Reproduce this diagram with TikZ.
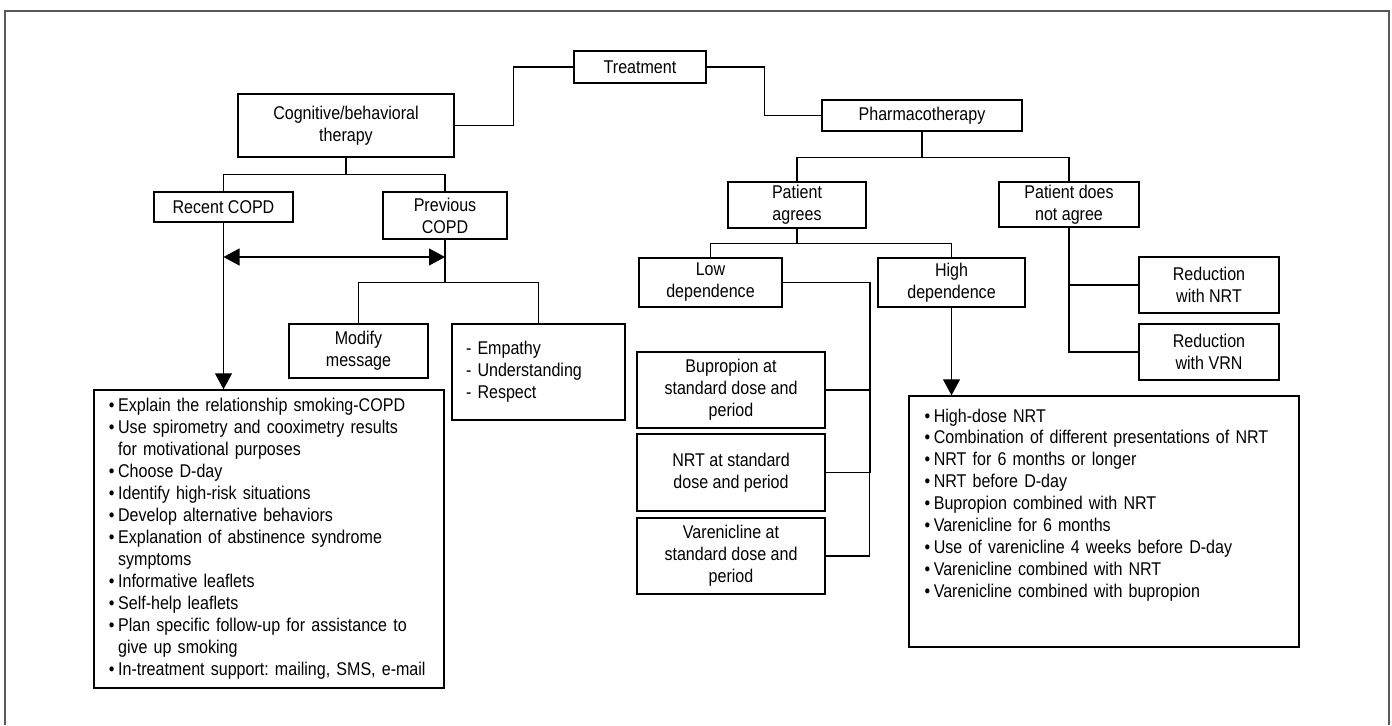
\documentclass[tikz,border=0pt]{standalone}
\usepackage{fontspec}
\setmainfont[FakeStretch=0.87]{Liberation Sans}
\usetikzlibrary{arrows.meta}
\frenchspacing

\tikzset{
  box/.style={draw, line width=0.8pt, align=center, inner sep=0pt,
    font=\fontsize{10.5}{12.5}\selectfont},
  dims/.style 2 args={minimum width=#1mm, minimum height=#2mm},
  link/.style={line width=0.65pt},
  arr/.style={link, -{Triangle[length=3.2mm,width=3.4mm]}},
  listtext/.style={anchor=north west, align=left, inner sep=0pt,
    font=\fontsize{10.5}{12.5}\selectfont}
}
\newcommand{\itm}{\makebox[5.2pt][l]{\textbullet}}
\newcommand{\cnt}{\hspace*{5.2pt}}

\begin{document}
\begin{tikzpicture}[x=0.2mm, y=-0.2mm]
\useasboundingbox (0,0) rectangle (1392,725);

% Frame
\draw[line width=1pt, black!65] (5,725) -- (5,11) -- (1389,11) -- (1389,725);

% Root
\node[box, dims={26.4}{6.4}] (treat) at (640,67) {Treatment};

% Cognitive/behavioral branch
\node[box, dims={43.2}{12.6}] (cbt) at (346,125.5) {Cognitive/behavioral\\therapy};
\node[box, dims={27.8}{6}] (recent) at (223.5,207) {Recent COPD};
\node[box, dims={24.8}{9.4}] (prev) at (445,215.5) {Previous\\COPD};
\node[box, dims={27.8}{10.8}] (modify) at (358.5,351) {Modify\\message};
\node[box, dims={34.6}{19.2}, text width=29mm, align=left] (empathy) at (538.5,372)
  {- Empathy\\- Understanding\\- Respect};
\node[box, dims={70}{59.6}, text width=64mm, align=left] (leftlist) at (269,539) {%
  \itm Explain the relationship smoking-COPD\\
  \itm Use spirometry and cooximetry results\\
  \cnt for motivational purposes\\
  \itm Choose D-day\\
  \itm Identify high-risk situations\\
  \itm Develop alternative behaviors\\
  \itm Explanation of abstinence syndrome\\
  \cnt symptoms\\
  \itm Informative leaflets\\
  \itm Self-help leaflets\\
  \itm Plan specific follow-up for assistance to\\
  \cnt give up smoking\\
  \itm In-treatment support: mailing, SMS, e-mail};

% Pharmacotherapy branch
\node[box, dims={40}{6.2}] (pharma) at (922,115.5) {Pharmacotherapy};
\node[box, dims={27.6}{9.2}] (agree) at (797,205) {Patient\\agrees};
\node[box, dims={28}{9}] (notagree) at (1069,204.5) {Patient does\\not agree};
\node[box, dims={28.6}{9.8}] (low) at (710.5,282.5) {Low\\dependence};
\node[box, dims={29.4}{9.8}] (high) at (951.5,282.5) {High\\dependence};
\node[box, dims={37.6}{15.2}] (bup) at (731,390) {Bupropion at\\standard dose and\\period};
\node[box, dims={37.6}{15.4}] (nrt) at (731,472.5) {NRT at standard\\dose and period};
\node[box, dims={37.6}{15.2}] (var) at (731,556) {Varenicline at\\standard dose and\\period};
\node[box, dims={28}{11.2}] (rednrt) at (1209,285) {Reduction\\with NRT};
\node[box, dims={28}{11.2}] (redvrn) at (1209,352) {Reduction\\with VRN};
\node[box, dims={78}{50.2}] (rightlist) at (1104,521.5) {};
\node[listtext, text width=74mm] (righttext) at ([xshift=3.2mm,yshift=-2.6mm]rightlist.north west) {%
  \itm High-dose NRT\\
  \itm Combination of different presentations of NRT\\
  \itm NRT for 6 months or longer\\
  \itm NRT before D-day\\
  \itm Bupropion combined with NRT\\
  \itm Varenicline for 6 months\\
  \itm Use of varenicline 4 weeks before D-day\\
  \itm Varenicline combined with NRT\\
  \itm Varenicline combined with bupropion};

% Connectors
\draw[link] (treat.west) -- ++(-60,0) |- (cbt.east);
\draw[link] (treat.east) -- ++(58,0) |- (pharma.west);

\draw[link] (cbt.south) -- ++(0,17) coordinate (cbtj) -| (recent.north);
\draw[link] (cbtj) -| (prev.north);
\coordinate (dbl) at (0,257);
\draw[link, {Triangle[length=3.2mm,width=3.4mm]}-{Triangle[length=3.2mm,width=3.4mm]}]
  (recent.south |- dbl) -- (prev.south |- dbl);
\draw[arr] (recent.south) -- (recent.south |- leftlist.north);
\draw[link] (prev.south) -- ++(0,43) coordinate (pvj) -| (modify.north);
\draw[link] (pvj) -| (empathy.north);

\draw[link] (pharma.south) -- ++(0,26) coordinate (phj) -| (agree.north);
\draw[link] (phj) -| (notagree.north);
\draw[link] (agree.south) -- ++(0,15) coordinate (agj) -| (low.north);
\draw[link] (agj) -| (high.north);

\draw[line width=1pt] (low.east) -- ++(87,0) coordinate (lowj) |- (nrt.east);
\draw[link] (nrt.east -| lowj) |- (var.east);
\draw[link] (bup.east) -- (bup.east -| lowj);
\draw[arr] (high.south) -- (high.south |- rightlist.north);

\draw[link] (notagree.south) |- (redvrn.west);
\draw[link] (rednrt.west) -- (rednrt.west -| notagree.south);

\end{tikzpicture}
\end{document}
